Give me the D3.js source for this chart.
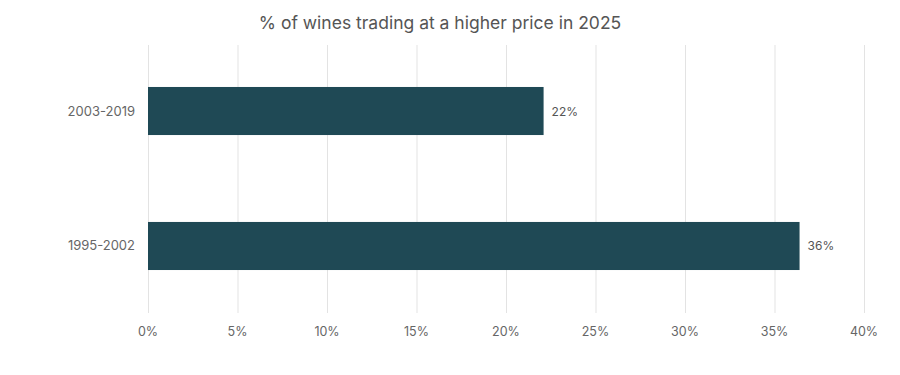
<!DOCTYPE html>
<html><head><meta charset="utf-8">
<script src="https://cdn.jsdelivr.net/npm/d3@7"></script>
<style>body{margin:0;background:#fff;}svg{display:block;font-family:Inter, "Noto Sans", sans-serif;}</style>
</head><body>
<svg id="c" width="900" height="375"></svg>
<script>
const title = "% of wines trading at a higher price in 2025";
const categories = ["2003-2019", "1995-2002"];
const values = [22.1, 36.4];
const valueLabels = ["22%", "36%"];
const ticks = [0, 5, 10, 15, 20, 25, 30, 35, 40];

const svg = d3.select("#c");
const x = d3.scaleLinear().domain([0, 40]).range([148, 864]);
const y = d3.scaleBand().domain(categories).range([45, 312]).paddingInner(0.644).paddingOuter(0.311);

svg.append("text").attr("x", 440).attr("y", 28.5).attr("text-anchor", "middle")
  .attr("font-size", 17.5).attr("fill", "#555").text(title);

svg.append("g").selectAll("line").data(ticks).join("line")
  .attr("x1", d => x(d) + 0.5).attr("x2", d => x(d) + 0.5)
  .attr("y1", 45).attr("y2", 313).attr("stroke", "#e3e3e3").attr("stroke-width", 1);

svg.append("g").selectAll("text").data(ticks).join("text")
  .attr("x", d => x(d)).attr("y", 336).attr("text-anchor", "middle")
  .attr("font-size", 12.5).attr("fill", "#666").text(d => d + "%");

svg.append("g").selectAll("rect").data(categories).join("rect")
  .attr("x", x(0)).attr("y", d => y(d)).attr("height", y.bandwidth())
  .attr("width", (d, i) => x(values[i]) - x(0)).attr("fill", "#1f4955");

svg.append("g").selectAll("text").data(categories).join("text")
  .attr("x", 135).attr("y", d => y(d) + y.bandwidth() / 2 + 4.5).attr("text-anchor", "end")
  .attr("font-size", 13).attr("fill", "#666").text(d => d);

svg.append("g").selectAll("text").data(categories).join("text")
  .attr("x", (d, i) => x(values[i]) + 8).attr("y", d => y(d) + y.bandwidth() / 2 + 4.5)
  .attr("font-size", 12).attr("fill", "#555").text((d, i) => valueLabels[i]);
</script>
</body></html>
